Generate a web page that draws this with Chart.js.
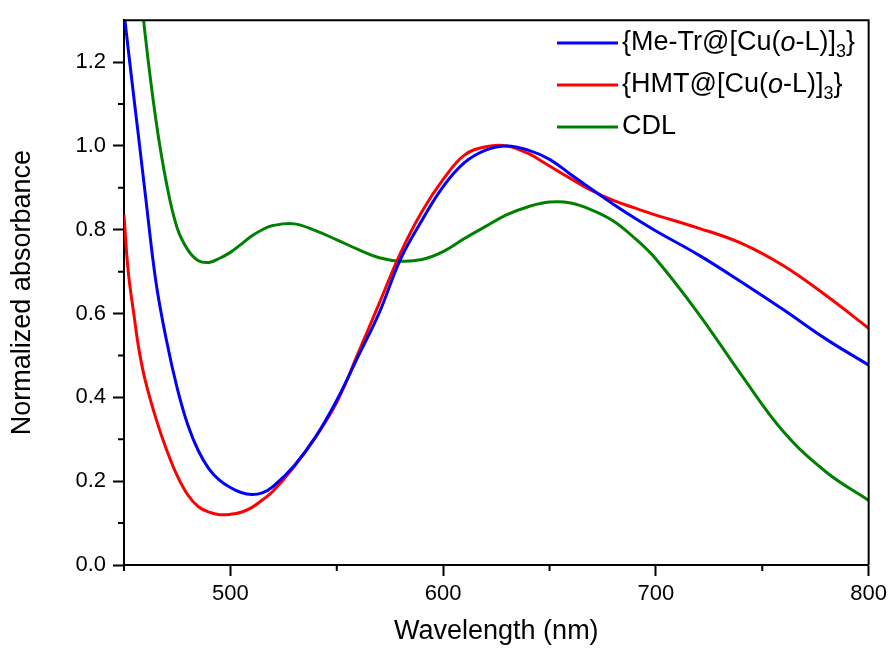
<!DOCTYPE html>
<html>
<head>
<meta charset="utf-8">
<script src="https://cdn.jsdelivr.net/npm/chart.js@4/dist/chart.umd.min.js"></script>
<style>
  html, body { margin: 0; padding: 0; background: #fff; }
  #wrap { width: 892px; height: 648px; }
</style>
</head>
<body>
<div id="wrap"><canvas id="chart"></canvas></div>
<script>
// wavelength grid (nm)
const wavelength = [450, 452, 455, 457, 460, 465, 470, 475, 480, 485, 490, 495, 500, 505, 510, 515, 520,
  530, 540, 550, 560, 570, 580, 590, 600, 610, 620, 630, 640, 650, 660, 670, 680, 690, 700,
  720, 740, 760, 780, 800];

// {Me-Tr@[Cu(o-L)]3}
const meTr = [1.32, 1.23, 1.10, 1.015, 0.885, 0.676, 0.535, 0.422, 0.334, 0.272, 0.229, 0.202, 0.185, 0.173, 0.168, 0.172, 0.187,
  0.237, 0.305, 0.393, 0.497, 0.602, 0.73, 0.822, 0.903, 0.96, 0.99, 1.0, 0.99, 0.968, 0.932, 0.896, 0.861, 0.828, 0.797,
  0.74, 0.676, 0.609, 0.539, 0.477];

// {HMT@[Cu(o-L)]3}
const hmt = [0.835, 0.70, 0.585, 0.515, 0.44, 0.35, 0.275, 0.213, 0.167, 0.139, 0.126, 0.12, 0.121, 0.126, 0.137, 0.155, 0.176,
  0.235, 0.305, 0.388, 0.505, 0.625, 0.745, 0.843, 0.92, 0.978, 0.998, 1.0, 0.982, 0.952, 0.922, 0.893, 0.87, 0.852, 0.835,
  0.804, 0.768, 0.714, 0.643, 0.565];

// CDL
const cdl = [1.75, 1.65, 1.51, 1.42, 1.263, 1.062, 0.91, 0.804, 0.752, 0.726, 0.722, 0.732, 0.746, 0.765, 0.785, 0.8, 0.81,
  0.814, 0.798, 0.776, 0.753, 0.733, 0.725, 0.729, 0.748, 0.779, 0.808, 0.836, 0.855, 0.866, 0.864, 0.847, 0.821, 0.78, 0.73,
  0.60, 0.455, 0.318, 0.222, 0.154];

const xMajor = [500, 600, 700, 800];
const xMinor = [450, 550, 650, 750];
const yMajor = [0, 0.2, 0.4, 0.6, 0.8, 1.0, 1.2];
const yMinor = [0.1, 0.3, 0.5, 0.7, 0.9, 1.1];

// legend labels split into runs: n = normal, i = italic, s = subscript
const legendRuns = [
  [['n', '{Me-Tr@[Cu('], ['i', 'o'], ['n', '-L)]'], ['s', '3'], ['n', '}']],
  [['n', '{HMT@[Cu('], ['i', 'o'], ['n', '-L)]'], ['s', '3'], ['n', '}']],
  [['n', 'CDL']]
];

const FONT = "'Liberation Sans', Arial, sans-serif";

function toPoints(ys) {
  return wavelength.map((w, i) => ({ x: w, y: ys[i] }));
}

// 边框 + 次刻度 + 图例
const extras = {
  id: 'extras',
  afterDraw(chart) {
    const ctx = chart.ctx;
    const a = chart.chartArea;
    const xs = chart.scales.x, ys = chart.scales.y;
    ctx.save();
    ctx.strokeStyle = '#000';
    ctx.lineWidth = 2;
    ctx.beginPath();
    ctx.moveTo(a.left, a.top); ctx.lineTo(a.right, a.top); ctx.lineTo(a.right, a.bottom);
    ctx.stroke();

    // minor ticks
    ctx.beginPath();
    xMinor.forEach(v => {
      const px = xs.getPixelForValue(v);
      ctx.moveTo(px, a.bottom); ctx.lineTo(px, a.bottom + 6);
    });
    yMinor.forEach(v => {
      const py = ys.getPixelForValue(v);
      ctx.moveTo(a.left, py); ctx.lineTo(a.left - 6, py);
    });
    ctx.stroke();

    // legend
    const ds = chart.data.datasets;
    let y = 43;
    ds.forEach((d, i) => {
      ctx.strokeStyle = d.borderColor;
      ctx.lineWidth = 3;
      ctx.beginPath();
      ctx.moveTo(557, y); ctx.lineTo(618, y);
      ctx.stroke();
      let x = 622;
      ctx.fillStyle = '#000';
      ctx.textBaseline = 'middle';
      legendRuns[i].forEach(([kind, txt]) => {
        if (kind === 's') {
          ctx.font = '18px ' + FONT;
          ctx.fillText(txt, x, y + 9);
        } else {
          ctx.font = (kind === 'i' ? 'italic ' : '') + '27px ' + FONT;
          ctx.fillText(txt, x, y);
        }
        x += ctx.measureText(txt).width;
      });
      y += 42;
    });
    ctx.restore();
  }
};

const series = [
  { label: '{Me-Tr@[Cu(o-L)]3}', data: meTr, color: '#0000ff' },
  { label: '{HMT@[Cu(o-L)]3}', data: hmt, color: '#ff0000' },
  { label: 'CDL', data: cdl, color: '#008000' }
];

new Chart(document.getElementById('chart'), {
  type: 'line',
  data: {
    datasets: series.map(s => ({
      label: s.label,
      data: toPoints(s.data),
      borderColor: s.color,
      borderWidth: 3,
      pointRadius: 0,
      fill: false,
      tension: 0.4
    }))
  },
  options: {
    responsive: true,
    maintainAspectRatio: false,
    animation: false,
    layout: { padding: { top: 15, right: 21, left: 0, bottom: 0 } },
    plugins: { legend: { display: false }, tooltip: { enabled: false } },
    scales: {
      x: {
        type: 'linear',
        min: 450,
        max: 800,
        afterBuildTicks: s => { s.ticks = xMajor.map(v => ({ value: v })); },
        afterFit: s => { s.height = 83; },
        grid: { drawOnChartArea: false, tickLength: 11, tickColor: '#000', tickWidth: 2 },
        border: { color: '#000', width: 2 },
        ticks: { color: '#000', padding: 5, maxRotation: 0, font: { family: FONT, size: 22 } },
        title: {
          display: true, text: 'Wavelength (nm)', color: '#000',
          font: { family: FONT, size: 27 }, padding: { top: 0, bottom: 0 }
        }
      },
      y: {
        min: 0,
        max: 1.3,
        afterBuildTicks: s => { s.ticks = yMajor.map(v => ({ value: v })); },
        afterFit: s => { s.width = 124; },
        grid: { drawOnChartArea: false, tickLength: 11, tickColor: '#000', tickWidth: 2 },
        border: { color: '#000', width: 2 },
        ticks: { color: '#000', padding: 7, font: { family: FONT, size: 22 }, callback: v => v.toFixed(1) },
        title: {
          display: true, text: 'Normalized absorbance', color: '#000',
          font: { family: FONT, size: 27 }, padding: { top: 6, bottom: 0 }
        }
      }
    }
  },
  plugins: [extras]
});
</script>
</body>
</html>
